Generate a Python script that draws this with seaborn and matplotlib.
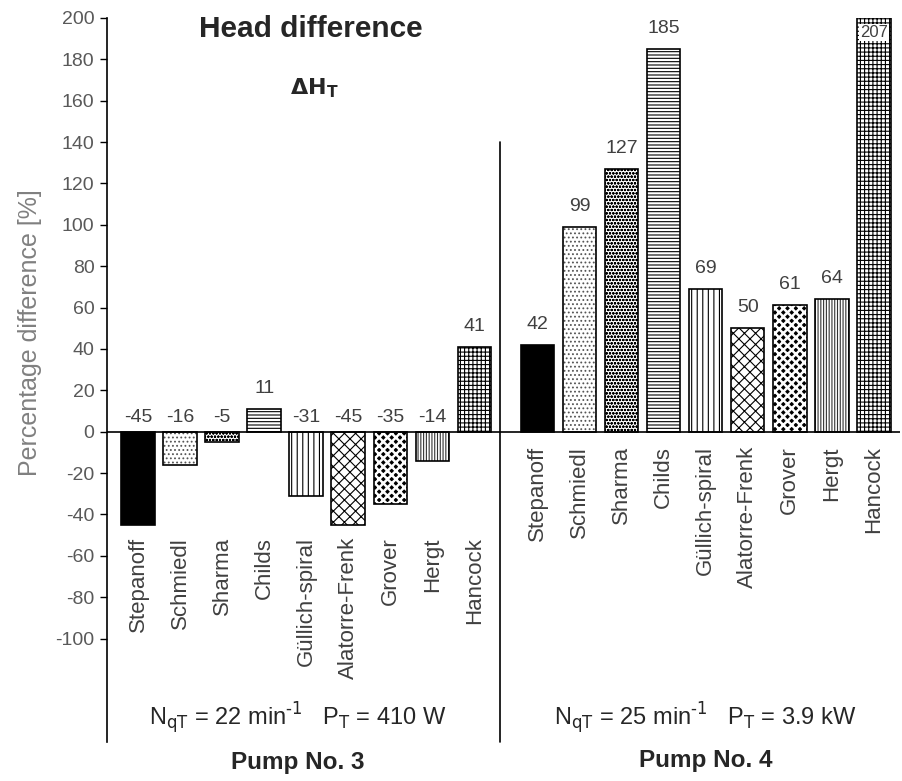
import matplotlib
matplotlib.use("Agg")
import matplotlib.pyplot as plt
import numpy as np
import pandas as pd
import seaborn as sns

# Datos
methods = ["Stepanoff", "Schmiedl", "Sharma", "Childs", "Güllich-spiral",
           "Alatorre-Frenk", "Grover", "Hergt", "Hancock"]
pump3_values = [-45, -16, -5, 11, -31, -45, -35, -14, 41]
pump4_values = [42, 99, 127, 185, 69, 50, 61, 64, 207]
y_ticks = list(range(-100, 201, 20))

# Estilo de cada método (relleno + trama)
FACES = ["black", "white", "white", "white", "white", "white", "black", "white", "white"]
HATCHES = [None, "....", "ooooo", "-----", "|||", "xxx", "xxxx", "||||||", "++++"]
HATCH_COLORS = ["black", "#555555", "black", "black", "black", "black", "white", "#333333", "black"]
HATCH_LW = [0.8, 0.8, 0.7, 0.8, 0.8, 0.8, 1.8, 0.8, 0.8]

sns.set_style("white")
plt.rcParams["font.family"] = ["Liberation Sans", "DejaVu Sans"]
plt.rcParams["hatch.linewidth"] = 0.8

pos3 = np.arange(len(methods), dtype=float)
pos4 = pos3 + len(methods) + 0.5
df = pd.DataFrame({
    "pos": np.concatenate([pos3, pos4]),
    "value": pump3_values + pump4_values,
    "method": methods * 2,
})

fig = plt.figure(figsize=(9.03, 7.81), dpi=100)
ax = fig.add_axes([0.1185, 0.05, 0.878, 0.927])

sns.barplot(data=df, x="pos", y="value", native_scale=True, width=0.8,
            color="white", edgecolor="black", linewidth=1.2, ax=ax)

for patch, m in zip(ax.patches, df["method"]):
    i = methods.index(m)
    patch.set_facecolor(FACES[i])
    if HATCHES[i]:
        patch.set_hatch(HATCHES[i])
        patch._hatch_color = matplotlib.colors.to_rgba(HATCH_COLORS[i])
        if hasattr(patch, "set_hatch_linewidth"):
            patch.set_hatch_linewidth(HATCH_LW[i])

ax.set_ylim(-150, 200)
ax.set_xlim(-0.74, pos4[-1] + 0.62)
ax.set_yticks(y_ticks)
ax.set_yticklabels([str(t) for t in y_ticks], color="#595959", fontsize=14)
ax.set_xticks([])
ax.set_xlabel("")
ax.set_ylabel("Percentage difference [%]", color="#808080", fontsize=18)
ax.yaxis.set_label_coords(-0.082, 0.566)
ax.tick_params(axis="y", direction="out", length=5, width=1, color="black", left=True, pad=4)
for s in ["top", "right", "bottom"]:
    ax.spines[s].set_visible(False)
ax.spines["left"].set_color("black")
ax.spines["left"].set_linewidth(1.2)
ax.axhline(0, color="black", lw=1.2)
ax.plot([pos3[-1] + 0.62, pos3[-1] + 0.62], [140, -150], color="black", lw=1.2, clip_on=False)

# Etiquetas de valor
for x, v in zip(df["pos"], df["value"]):
    if v > 200:
        ax.text(x, 193, str(v), ha="center", va="center", fontsize=12, color="#404040",
                bbox=dict(facecolor="white", edgecolor="none", pad=1))
    elif v >= 0:
        ax.text(x, v + 10, str(v), ha="center", va="center", fontsize=14, color="#404040")
    else:
        ax.text(x, 7, str(v), ha="center", va="center", fontsize=14, color="#404040")

# Nombres de categoría rotados
for x, m in zip(pos3, methods):
    ax.text(x, -51, m, rotation=90, ha="center", va="top", fontsize=16, color="#404040")
for x, m in zip(pos4, methods):
    ax.text(x, -7, m, rotation=90, ha="center", va="top", fontsize=16, color="#404040")

ax.text(4.1, 194.5, "Head difference", ha="center", va="center", fontsize=21.5, fontweight="bold")
ax.text(4.2, 166, r"$\mathbf{\Delta H_T}$", ha="center", va="center", fontsize=16)

ax.text(3.8, -138.5, r"N$_{\mathrm{qT}}$ = 22 min$^{\text{-1}}$   P$_{\mathrm{T}}$ = 410 W",
        ha="center", va="center", fontsize=17)
ax.text(13.5, -138.5, r"N$_{\mathrm{qT}}$ = 25 min$^{\text{-1}}$   P$_{\mathrm{T}}$ = 3.9 kW",
        ha="center", va="center", fontsize=17)
ax.text(3.8, -160, "Pump No. 3", ha="center", va="center", fontsize=17.5,
        fontweight="bold", clip_on=False)
ax.text(13.5, -159, "Pump No. 4", ha="center", va="center", fontsize=17.5,
        fontweight="bold", clip_on=False)

fig.savefig("out.png", dpi=100)
